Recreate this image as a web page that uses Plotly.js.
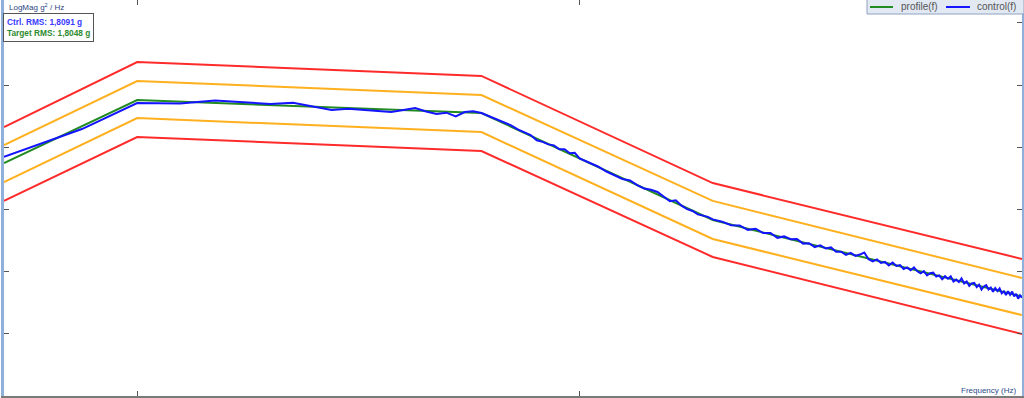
<!DOCTYPE html>
<html>
<head>
<meta charset="utf-8">
<script src="https://cdn.plot.ly/plotly-3.0.1.min.js"></script>
<style>html,body{margin:0;padding:0;background:#fff;}#chart{width:1024px;height:398px;}</style>
</head>
<body>
<div id="chart"></div>
<script>
// Breakpoint frequencies of the reference profile and its tolerance bands (Hz)
const profileFreq = [5, 10, 60, 200, 1000];
const profileVal  = [5.57e-3, 5.74e-2, 3.55e-2, 6.76e-4, 3.98e-5];
const abortHigh   = [2.11e-2, 2.34e-1, 1.40e-1, 2.65e-3, 1.60e-4];
const alarmHigh   = [1.08e-2, 1.16e-1, 6.90e-2, 1.37e-3, 7.90e-5];
const alarmLow    = [2.76e-3, 2.94e-2, 1.75e-2, 3.34e-4, 2.00e-5];
const abortLow    = [1.37e-3, 1.46e-2, 8.70e-3, 1.72e-4, 9.90e-6];

// Measured control spectrum
const controlFreq = [5, 7.5, 10, 12.5, 15, 17.5, 20, 22.5, 25, 27.5, 30, 32.5, 35, 37.5, 40, 42.5, 45, 47.5, 50, 52.5,
  55, 57.5, 60, 62.5, 65, 67.5, 70, 72.5, 75, 77.5, 80, 82.5, 85, 87.5, 90, 92.5, 95, 97.5, 100,
  105, 110, 115, 120, 125, 130, 135, 140, 145, 150, 155, 160, 165, 170, 175, 180, 185, 190, 195, 200,
  210, 220, 230, 240, 250, 260, 270, 280, 290, 300, 310, 320, 330, 340, 350, 360, 370, 380, 390, 400,
  410, 420, 430, 440, 450, 460, 470, 480, 490, 500, 510, 520, 530, 540, 550, 560, 570, 580, 590, 600,
  610, 620, 630, 640, 650, 660, 670, 680, 690, 700, 710, 720, 730, 740, 750, 760, 770, 780, 790, 800,
  810, 820, 830, 840, 850, 860, 870, 880, 890, 900, 910, 920, 930, 940, 950, 960, 970, 980, 990, 1000];
const controlVal = [7.03e-3, 1.96e-2, 5.14e-2, 5.05e-2, 5.64e-2, 5.33e-2, 4.95e-2, 5.19e-2, 4.55e-2, 3.96e-2,
  4.14e-2, 3.96e-2, 3.89e-2, 3.68e-2, 3.96e-2, 4.27e-2, 3.75e-2, 3.42e-2, 3.59e-2, 3.12e-2,
  3.68e-2, 3.78e-2, 3.55e-2, 3.13e-2, 2.79e-2, 2.51e-2, 2.25e-2, 1.93e-2, 1.74e-2, 1.57e-2,
  1.29e-2, 1.22e-2, 1.11e-2, 1.07e-2, 9.25e-3, 9.25e-3, 7.98e-3, 8.13e-3, 6.61e-3,
  5.75e-3, 4.90e-3, 4.07e-3, 3.55e-3, 3.09e-3, 2.92e-3, 2.46e-3, 2.16e-3, 2.07e-3, 1.91e-3,
  1.58e-3, 1.35e-3, 1.40e-3, 1.15e-3, 1.01e-3, 9.44e-4, 8.32e-4, 7.94e-4, 7.59e-4, 6.92e-4,
  6.35e-4, 5.58e-4, 5.53e-4, 4.69e-4, 4.89e-4, 4.17e-4, 4.18e-4, 3.49e-4, 3.68e-4, 3.31e-4,
  3.35e-4, 2.82e-4, 2.86e-4, 2.48e-4, 2.64e-4, 2.35e-4, 2.45e-4, 2.08e-4, 2.09e-4, 1.86e-4,
  2.00e-4, 1.79e-4, 1.88e-4, 2.03e-4, 1.58e-4, 1.46e-4, 1.57e-4, 1.38e-4, 1.43e-4, 1.26e-4,
  1.40e-4, 1.23e-4, 1.27e-4, 1.10e-4, 1.17e-4, 1.05e-4, 1.17e-4, 1.01e-4, 9.40e-5, 1.02e-4,
  8.67e-5, 9.44e-5, 9.62e-5, 8.34e-5, 8.69e-5, 7.53e-5, 8.43e-5, 7.67e-5, 8.38e-5, 6.95e-5,
  7.45e-5, 6.78e-5, 7.76e-5, 6.46e-5, 6.92e-5, 5.89e-5, 6.46e-5, 6.61e-5, 5.62e-5, 6.17e-5,
  5.14e-5, 5.77e-5, 6.05e-5, 5.16e-5, 5.55e-5, 4.73e-5, 5.45e-5, 4.86e-5, 5.36e-5, 4.47e-5,
  4.81e-5, 4.20e-5, 4.84e-5, 4.24e-5, 4.78e-5, 3.99e-5, 4.40e-5, 3.67e-5, 4.15e-5, 3.80e-5];

const xTicks = [10, 100];
const yTicks = [1e-6, 1e-5, 1e-4, 1e-3, 1e-2, 1e-1, 1];
const seriesNames = ['profile(f)', 'control(f)'];
const ctrlRmsLabel = 'Ctrl. RMS: 1,8091 g';
const targetRmsLabel = 'Target RMS: 1,8048 g';

const RED = '#ff2b2b', ORANGE = '#ffb01f', GREEN = '#228b22', BLUE = '#1414ff';
const FONT = 'Liberation Sans, Arial, sans-serif';

function band(y, color) {
  return {x: profileFreq, y: y, type: 'scatter', mode: 'lines', showlegend: false, hoverinfo: 'skip',
          line: {color: color, width: 2}};
}

const traces = [
  band(abortHigh, RED), band(alarmHigh, ORANGE), band(alarmLow, ORANGE), band(abortLow, RED),
  {x: profileFreq, y: profileVal, type: 'scatter', mode: 'lines', name: seriesNames[0], showlegend: false, line: {color: GREEN, width: 2}},
  {x: controlFreq, y: controlVal, type: 'scatter', mode: 'lines', name: seriesNames[1], showlegend: false, line: {color: BLUE, width: 2}}
];

// pixel helpers for the paper-positioned legend box (plot area 1018 x 396 px)
const px = v => (v - 4) / 1018;
const py = v => (396 - v) / 396;

const layout = {
  width: 1024, height: 398,
  margin: {l: 4, r: 2, t: 0, b: 2, pad: 0},
  paper_bgcolor: '#ffffff', plot_bgcolor: '#ffffff',
  font: {family: FONT, size: 9, color: '#444'},
  xaxis: {type: 'log', range: [Math.log10(5), 3], tickvals: xTicks, showticklabels: false,
          ticks: 'inside', ticklen: 5, tickcolor: '#555', tickwidth: 1, showgrid: false, zeroline: false,
          showline: true, linecolor: '#7a7a7a', linewidth: 2, mirror: 'ticks'},
  yaxis: {type: 'log', range: [-6, 0.367], tickvals: yTicks, showticklabels: false,
          ticks: 'inside', ticklen: 5, tickcolor: '#555', tickwidth: 1, showgrid: false, zeroline: false,
          showline: true, linecolor: '#8fb0da', linewidth: 3, mirror: 'ticks'},
  showlegend: false,
  shapes: [
    {type: 'rect', xref: 'paper', yref: 'paper', x0: px(867), x1: px(1024), y0: py(14), y1: py(-2),
     fillcolor: '#e3e9f3', line: {color: '#8da1c2', width: 1}, layer: 'above'},
    {type: 'line', xref: 'paper', yref: 'paper', x0: px(870), x1: px(893), y0: py(7), y1: py(7),
     line: {color: GREEN, width: 2}, layer: 'above'},
    {type: 'line', xref: 'paper', yref: 'paper', x0: px(946), x1: px(970), y0: py(7), y1: py(7),
     line: {color: BLUE, width: 2}, layer: 'above'}
  ],
  annotations: [
    {xref: 'paper', yref: 'paper', x: px(899), y: py(7), xanchor: 'left', yanchor: 'middle', showarrow: false,
     text: seriesNames[0], font: {family: FONT, size: 10, color: '#555'}},
    {xref: 'paper', yref: 'paper', x: px(975), y: py(7), xanchor: 'left', yanchor: 'middle', showarrow: false,
     text: seriesNames[1], font: {family: FONT, size: 10, color: '#555'}},
    {xref: 'paper', yref: 'paper', x: px(7), y: 1, xanchor: 'left', yanchor: 'top', showarrow: false,
     text: 'LogMag g<sup>2</sup> / Hz', font: {family: FONT, size: 8, color: '#2a4580'}},
    {xref: 'paper', yref: 'paper', x: px(3), y: py(13), xanchor: 'left', yanchor: 'top', showarrow: false,
     align: 'left', bgcolor: '#ffffff', bordercolor: '#555', borderwidth: 1, borderpad: 3,
     text: '<b><span style="color:#3a3aff">' + ctrlRmsLabel + '</span><br><span style="color:#2e8b2e">' + targetRmsLabel + '</span></b>',
     font: {family: FONT, size: 8.3}},
    {xref: 'paper', yref: 'paper', x: px(1018), y: 0, xanchor: 'right', yanchor: 'bottom', yshift: -1, showarrow: false,
     text: 'Frequency (Hz)', font: {family: FONT, size: 8, color: '#2a4a8a'}}
  ]
};

Plotly.newPlot('chart', traces, layout, {displayModeBar: false, staticPlot: true});
</script>
</body>
</html>
